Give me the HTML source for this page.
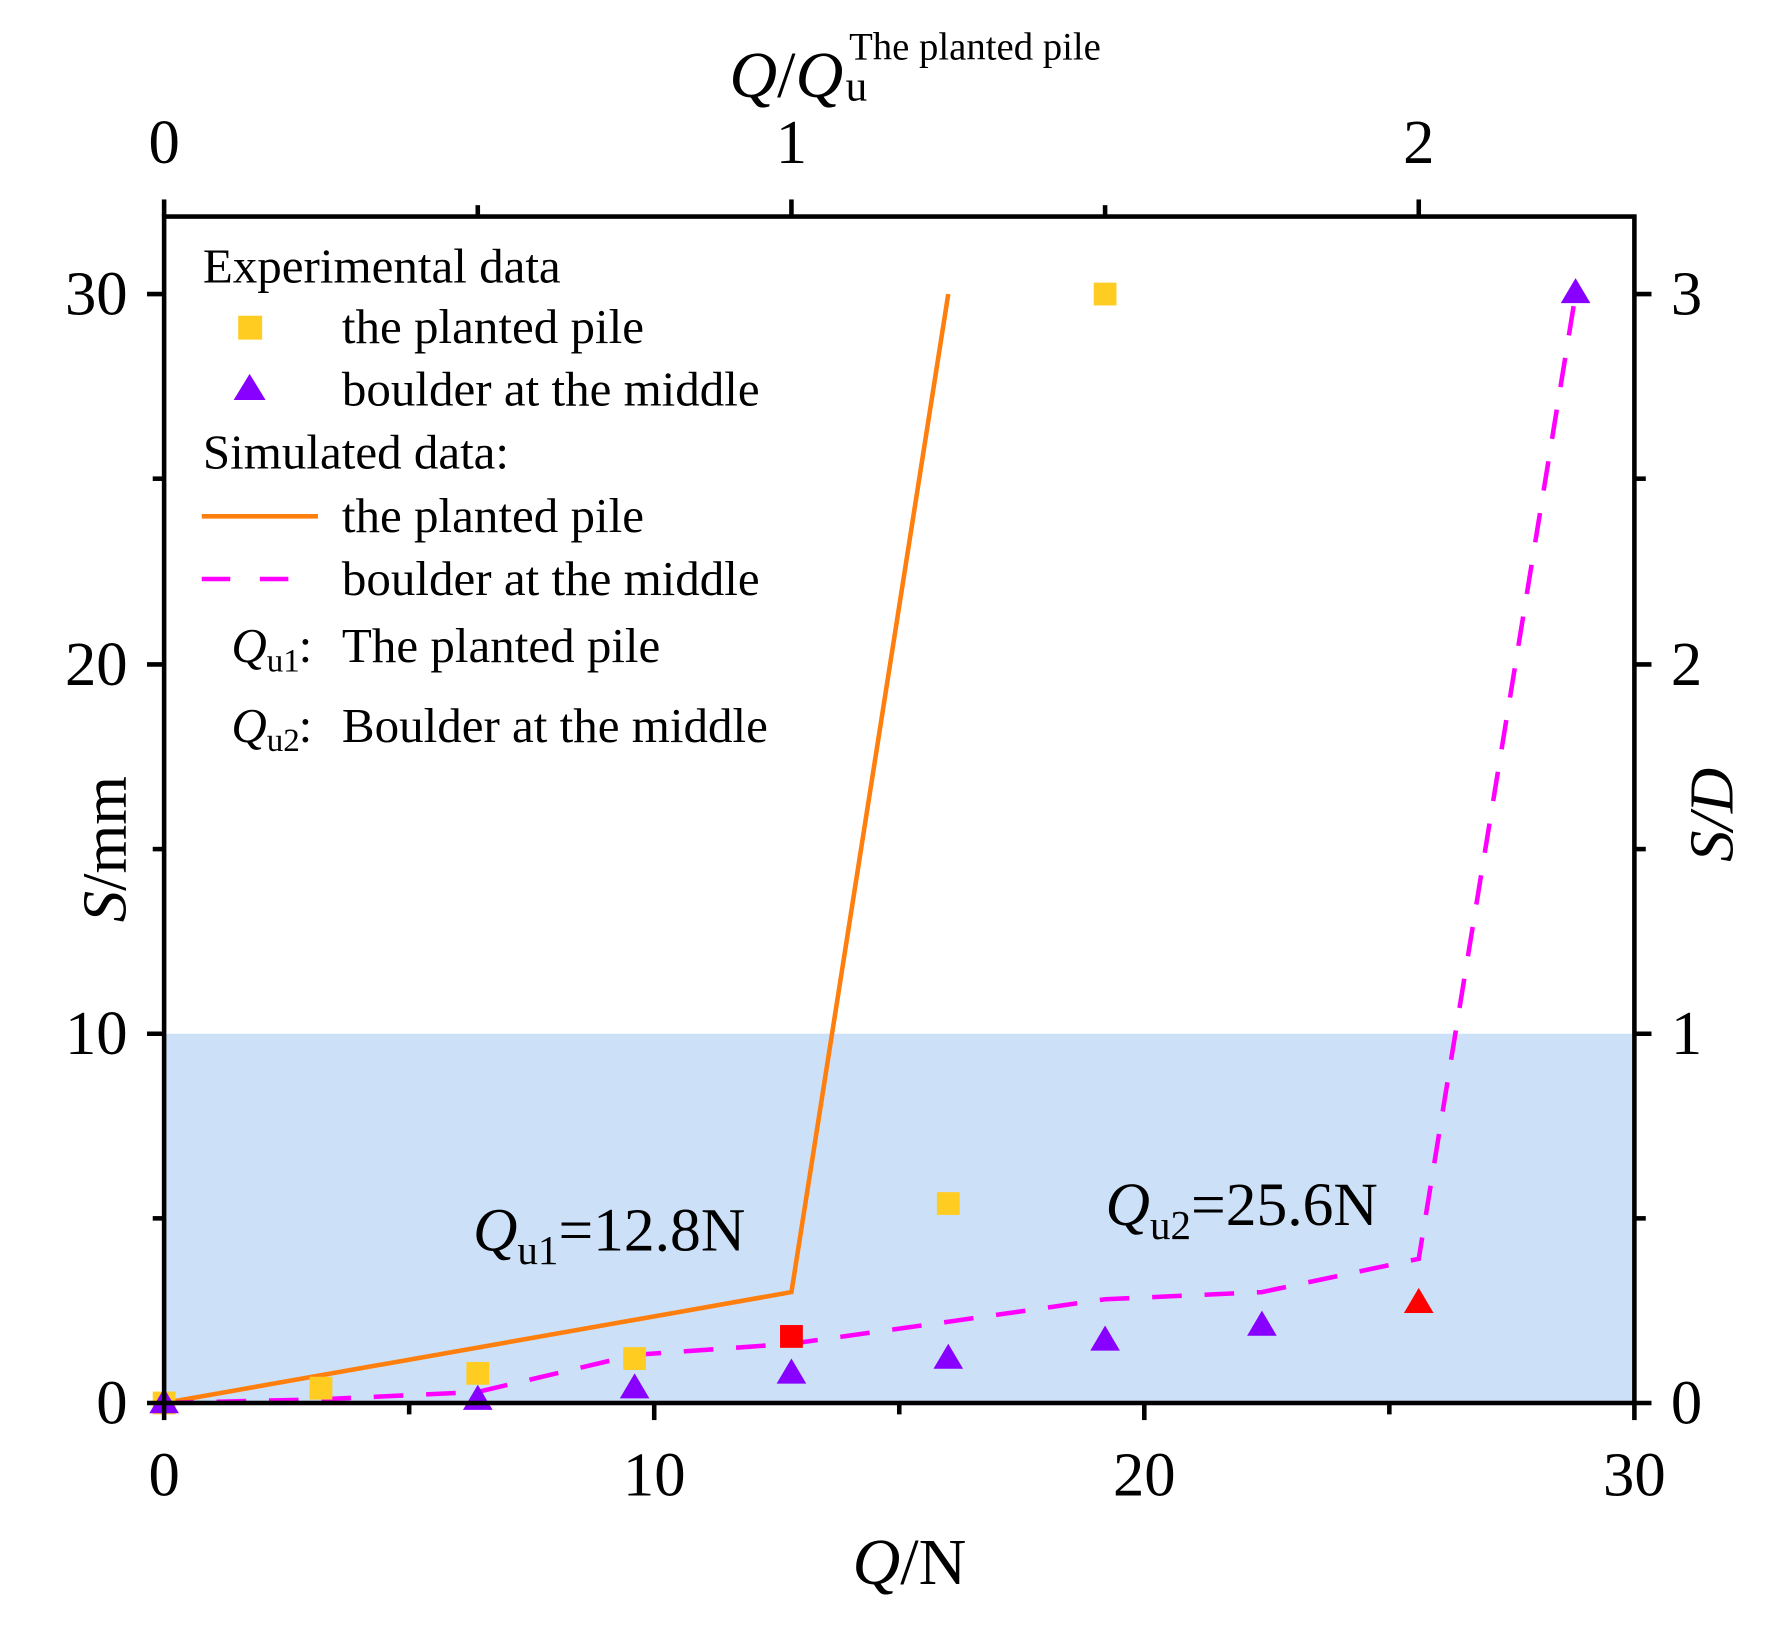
<!DOCTYPE html>
<html><head><meta charset="utf-8"><style>html,body{margin:0;padding:0;background:#fff}svg{display:block}</style></head>
<body>
<svg width="1778" height="1629" viewBox="0 0 1560 1429.3" preserveAspectRatio="none" xmlns="http://www.w3.org/2000/svg" font-family="Liberation Serif, serif">
<rect x="144" y="907" width="1290" height="324" fill="#cce0f7"/>
<polyline points="144,1231 694.4,1133.7 832,258" fill="none" stroke="#ff7f0e" stroke-width="4"/>
<polyline points="144,1231 281.6,1227.8 419.2,1221.3 556.8,1188.8 694.4,1179 832,1159.7 969.6,1140 1107.2,1133.7 1244.8,1104.5 1382.4,258" fill="none" stroke="#ff00ff" stroke-width="4" stroke-dasharray="26,20"/>
<g fill="#ffcc22">
<rect x="134" y="1221" width="20" height="20"/><rect x="271.6" y="1208" width="20" height="20"/><rect x="409.2" y="1195" width="20" height="20"/><rect x="546.8" y="1182" width="20" height="20"/><rect x="822" y="1046" width="20" height="20"/><rect x="959.6" y="248" width="20" height="20"/>
</g>
<rect x="684.4" y="1162.6" width="20" height="20" fill="#ff0000"/>
<g fill="#8800ff">
<polygon points="144,1218 131,1240 157,1240"/>
<polygon points="419.2,1215 406.2,1237 432.2,1237"/>
<polygon points="556.8,1205 543.8,1227 569.8,1227"/>
<polygon points="694.4,1192 681.4,1214 707.4,1214"/>
<polygon points="832,1179 819,1201 845,1201"/>
<polygon points="969.6,1163 956.6,1185 982.6,1185"/>
<polygon points="1107.2,1150 1094.2,1172 1120.2,1172"/>
<polygon points="1382.4,244 1369.4,266 1395.4,266"/>
</g>
<polygon points="1244.8,1130 1231.8,1152 1257.8,1152" fill="#ff0000"/>
<g stroke="#000" stroke-width="4" fill="none">
<rect x="144" y="190" width="1290" height="1041"/>
<line x1="144" y1="175" x2="144" y2="190"/>
<line x1="419.2" y1="180" x2="419.2" y2="190"/><line x1="694.4" y1="175" x2="694.4" y2="190"/><line x1="969.6" y1="180" x2="969.6" y2="190"/><line x1="1244.8" y1="175" x2="1244.8" y2="190"/>
<line x1="144" y1="1231" x2="144" y2="1246"/><line x1="359" y1="1231" x2="359" y2="1241"/><line x1="574" y1="1231" x2="574" y2="1246"/><line x1="789" y1="1231" x2="789" y2="1241"/><line x1="1004" y1="1231" x2="1004" y2="1246"/><line x1="1219" y1="1231" x2="1219" y2="1241"/><line x1="1434" y1="1231" x2="1434" y2="1246"/>
<line x1="129" y1="1231" x2="144" y2="1231"/><line x1="134" y1="1069" x2="144" y2="1069"/><line x1="129" y1="907" x2="144" y2="907"/><line x1="134" y1="745" x2="144" y2="745"/><line x1="129" y1="583" x2="144" y2="583"/><line x1="134" y1="420" x2="144" y2="420"/><line x1="129" y1="258" x2="144" y2="258"/>
<line x1="1434" y1="1231" x2="1449" y2="1231"/><line x1="1434" y1="1069" x2="1444" y2="1069"/><line x1="1434" y1="907" x2="1449" y2="907"/><line x1="1434" y1="745" x2="1444" y2="745"/><line x1="1434" y1="583" x2="1449" y2="583"/><line x1="1434" y1="420" x2="1444" y2="420"/><line x1="1434" y1="258" x2="1449" y2="258"/>
</g>
<g font-size="55" fill="#000">
<g text-anchor="middle">
<text x="144" y="1312">0</text><text x="574" y="1312">10</text><text x="1004" y="1312">20</text><text x="1434" y="1312">30</text>
<text x="144" y="143">0</text><text x="694.4" y="143">1</text><text x="1244.8" y="143">2</text>
</g>
<g text-anchor="end">
<text x="112" y="1249">0</text><text x="112" y="925">10</text><text x="112" y="601">20</text><text x="112" y="276">30</text>
</g>
<text x="1466" y="1249">0</text><text x="1466" y="925">1</text><text x="1466" y="601">2</text><text x="1466" y="276">3</text>
<text x="748" y="1390" font-size="58"><tspan font-style="italic">Q</tspan>/N</text>
<text transform="translate(110,745) rotate(-90)" text-anchor="middle" font-size="55"><tspan font-style="italic">S</tspan>/mm</text>
<text transform="translate(1520,715) rotate(-90)" text-anchor="middle" font-size="55" font-style="italic">S/D</text>
<text x="640" y="85" font-size="58"><tspan font-style="italic">Q</tspan>/<tspan font-style="italic">Q</tspan></text>
<text x="742" y="88" font-size="38">u</text>
<text x="745" y="52" font-size="34">The planted pile</text>
</g>
<g font-size="43" fill="#000">
<text x="178" y="248">Experimental data</text>
<rect x="209" y="277" width="21" height="21" fill="#ffcc22"/>
<text x="300" y="301">the planted pile</text>
<polygon points="219,328 205,351 233,351" fill="#8800ff"/>
<text x="300" y="356">boulder at the middle</text>
<text x="178" y="411">Simulated data:</text>
<line x1="177" y1="453" x2="279" y2="453" stroke="#ff7f0e" stroke-width="4"/>
<text x="300" y="467">the planted pile</text>
<line x1="177" y1="508" x2="279" y2="508" stroke="#ff00ff" stroke-width="4" stroke-dasharray="25,26"/>
<text x="300" y="522">boulder at the middle</text>
<text x="203" y="581" font-style="italic">Q</text><text x="234" y="589" font-size="29">u1</text><text x="262" y="581">:</text><text x="300" y="581">The planted pile</text>
<text x="203" y="651" font-style="italic">Q</text><text x="234" y="659" font-size="29">u2</text><text x="262" y="651">:</text><text x="300" y="651">Boulder at the middle</text>
</g>
<g font-size="54" fill="#000">
<text x="415" y="1097"><tspan font-style="italic">Q</tspan><tspan font-size="36" dy="12">u1</tspan><tspan dy="-12">=12.8N</tspan></text>
<text x="970" y="1075"><tspan font-style="italic">Q</tspan><tspan font-size="36" dy="12">u2</tspan><tspan dy="-12">=25.6N</tspan></text>
</g>
</svg>
</body></html>
